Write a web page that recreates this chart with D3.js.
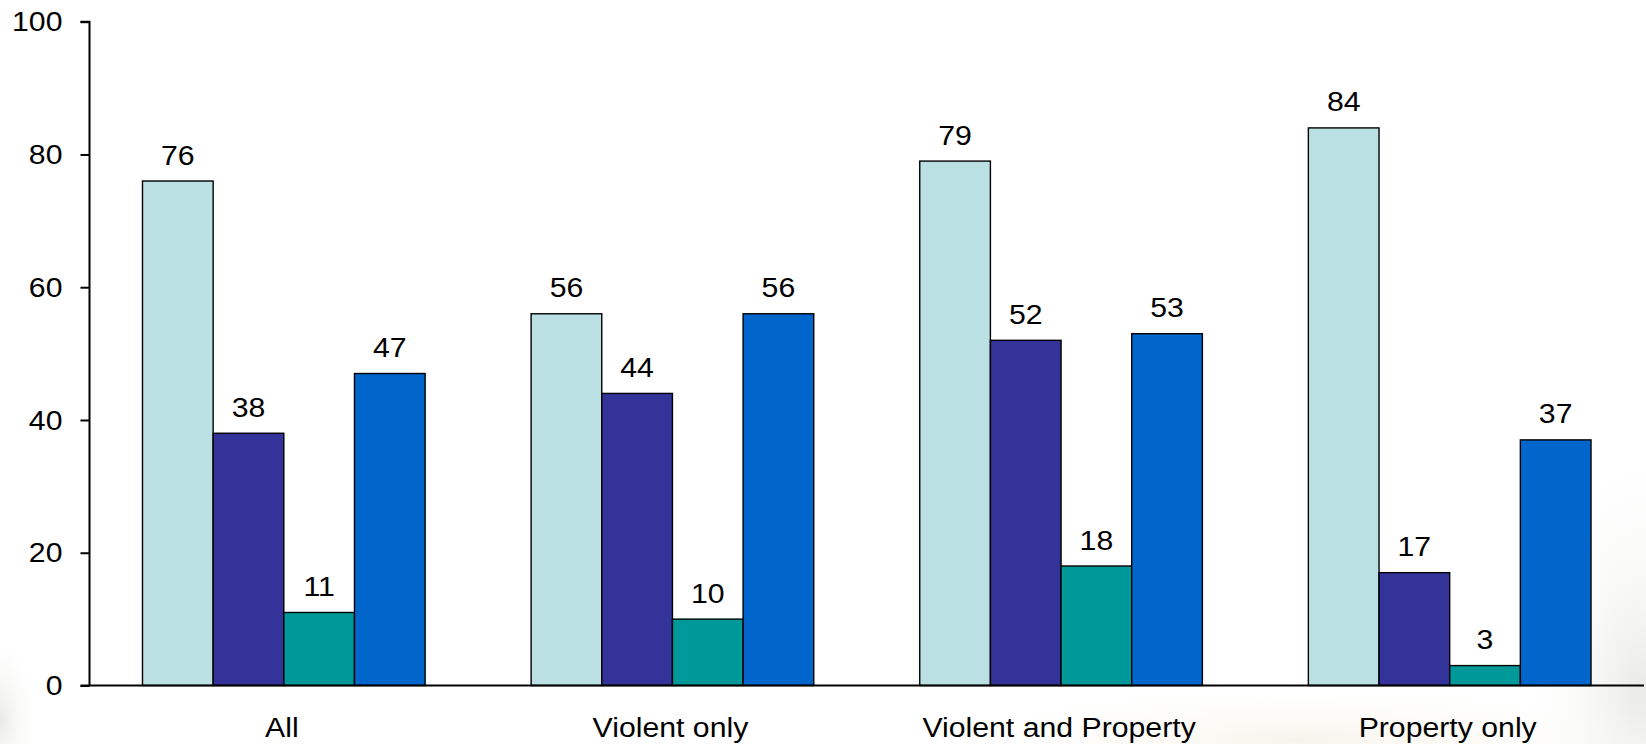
<!DOCTYPE html>
<html>
<head>
<meta charset="utf-8">
<script src="https://cdn.jsdelivr.net/npm/d3@7"></script>
<style>
html,body{margin:0;padding:0;background:#fff;}
svg{display:block;}
text{font-family:"Liberation Sans",Arial,sans-serif;fill:#000;}
</style>
</head>
<body>
<svg id="chart" width="1646" height="744"></svg>
<script>
const categories = ["All", "Violent only", "Violent and Property", "Property only"];
const seriesNames = ["Series 1", "Series 2", "Series 3", "Series 4"];
const series1 = [76, 56, 79, 84];
const series2 = [38, 44, 52, 17];
const series3 = [11, 10, 18, 3];
const series4 = [47, 56, 53, 37];
const yTicks = [0, 20, 40, 60, 80, 100];
const colors = ["#BBE0E3", "#333399", "#009999", "#0066CC"];

const seriesValues = [series1, series2, series3, series4];
const svg = d3.select("#chart");
const W = 1646, H = 744;
const axisX = 89.5, rightX = 1644;
const y0 = 685.5, y100 = 21.7;
const FS = 27, SX = 1.12;

// faint background watermark
const defs = svg.append("defs");
const g1 = defs.append("radialGradient").attr("id","wm1");
g1.append("stop").attr("offset","0%").attr("stop-color","#d9d9d2").attr("stop-opacity",0.55);
g1.append("stop").attr("offset","100%").attr("stop-color","#ffffff").attr("stop-opacity",0);
const g2 = defs.append("radialGradient").attr("id","wm2");
g2.append("stop").attr("offset","0%").attr("stop-color","#efe9d6").attr("stop-opacity",0.5);
g2.append("stop").attr("offset","100%").attr("stop-color","#ffffff").attr("stop-opacity",0);
svg.append("ellipse").attr("cx",1640).attr("cy",690).attr("rx",120).attr("ry",260).attr("fill","url(#wm1)");
svg.append("ellipse").attr("cx",1300).attr("cy",740).attr("rx",400).attr("ry",60).attr("fill","url(#wm2)");
svg.append("ellipse").attr("cx",0).attr("cy",720).attr("rx",40).attr("ry",90).attr("fill","url(#wm1)");

const x = d3.scaleBand().domain(categories).range([axisX, rightX])
  .paddingInner(1.5/5.5).paddingOuter(0.75/5.5);
const xs = d3.scaleBand().domain(d3.range(seriesNames.length)).range([0, x.bandwidth()]);
const y = d3.scaleLinear().domain([0, 100]).range([y0, y100]);

function sText(sel, tx, ty, str, anchor) {
  return sel.append("text")
    .attr("transform", `translate(${tx},${ty}) scale(${SX},1)`)
    .attr("text-anchor", anchor || "middle")
    .attr("font-size", FS)
    .text(str);
}

// bars
const groups = svg.append("g").selectAll("g").data(categories).join("g")
  .attr("transform", d => `translate(${x(d)},0)`);
groups.each(function(cat, ci) {
  const g = d3.select(this);
  seriesValues.forEach((vals, si) => {
    const v = vals[ci];
    g.append("rect")
      .attr("x", xs(si)).attr("width", xs.bandwidth())
      .attr("y", y(v)).attr("height", y0 - y(v))
      .attr("fill", colors[si]).attr("stroke", "#000").attr("stroke-width", 1.4);
    sText(g, xs(si) + xs.bandwidth()/2, y(v) - 16.5, String(v));
  });
});

// y axis
const yAxis = d3.axisLeft(y).tickValues(yTicks).tickSize(9).tickFormat("");
const ya = svg.append("g").attr("transform", `translate(${axisX},0)`).call(yAxis);
ya.selectAll("path,line").attr("stroke", "#000").attr("stroke-width", 2);
ya.select(".domain").attr("d", `M-9,${y(100)}H0V${y0}`);
yTicks.forEach(t => sText(svg, axisX - 27, y(t) + 9.7, String(t), "end"));

// x axis
svg.append("line").attr("x1", axisX - 9).attr("x2", rightX).attr("y1", y0).attr("y2", y0)
  .attr("stroke", "#000").attr("stroke-width", 2);
categories.forEach(c => sText(svg, x(c) + x.bandwidth()/2 - 2, 736.7, c));
</script>
</body>
</html>
